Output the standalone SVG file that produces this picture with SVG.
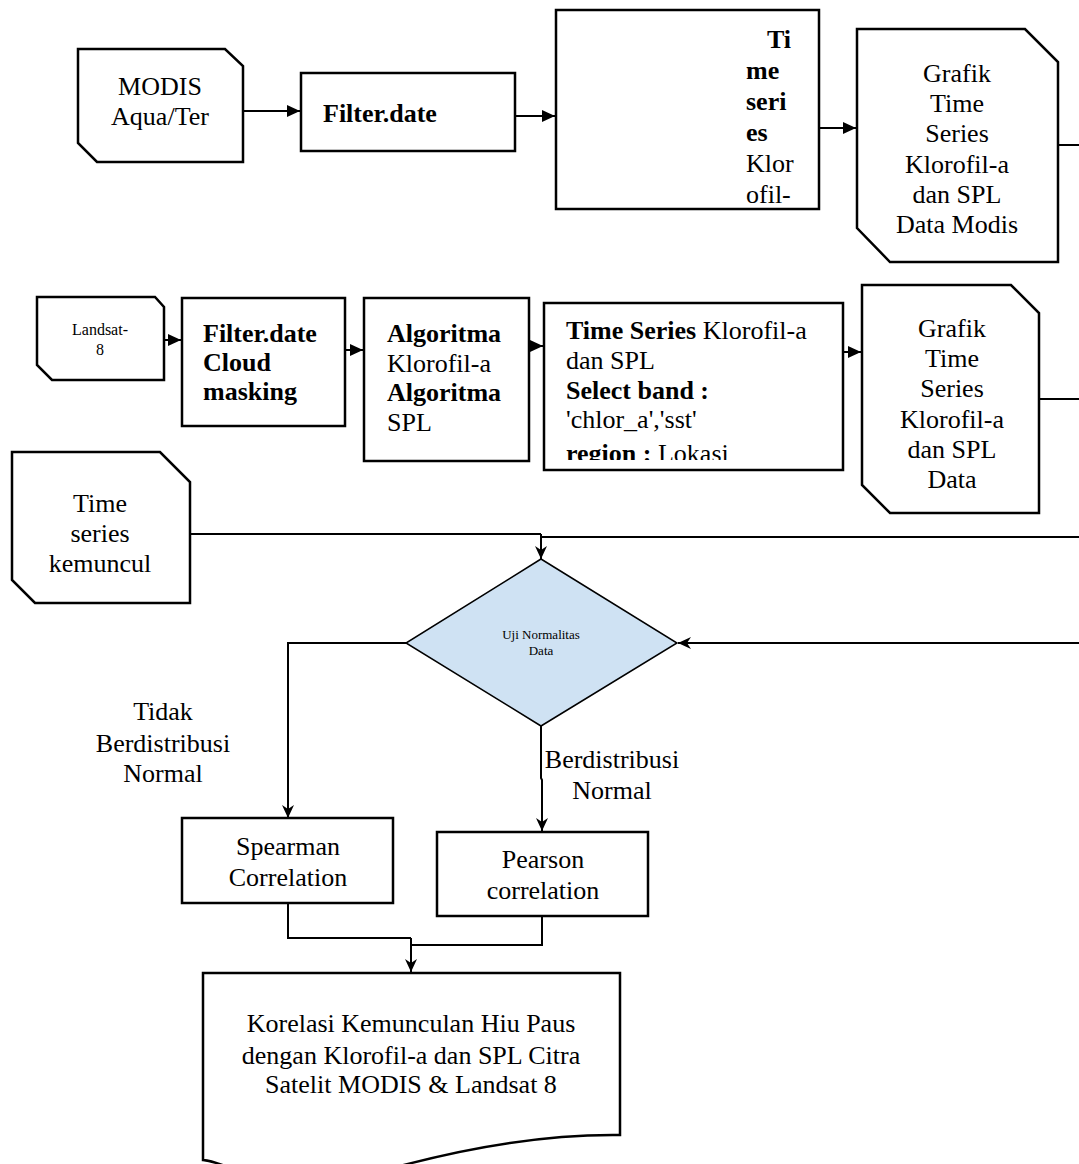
<svg xmlns="http://www.w3.org/2000/svg" width="1079" height="1164" viewBox="0 0 1079 1164">
<defs>
<style>
.box{fill:#fff;stroke:#000;stroke-width:2.5}
.dia{fill:#cfe2f3;stroke:#000;stroke-width:1.5}
.t{font-family:"Liberation Serif","Times New Roman",serif;font-size:26px;fill:#000}
.c{text-anchor:middle}
.b{font-weight:bold}
.ln{fill:none;stroke:#000;stroke-width:2}
.sa{marker-end:url(#solid)}
.st{marker-end:url(#stealth)}
</style>
<marker id="solid" markerUnits="userSpaceOnUse" markerWidth="14" markerHeight="14" refX="13" refY="6" orient="auto">
<path d="M0,0 L13,6 L0,12 Z" fill="#000"/>
</marker>
<marker id="stealth" markerUnits="userSpaceOnUse" markerWidth="14" markerHeight="14" refX="13" refY="6" orient="auto">
<path d="M0,0 L13,6 L0,12 L4,6 Z" fill="#000"/>
</marker>
<clipPath id="clipTS2"><rect x="546" y="305" width="295" height="155"/></clipPath>
</defs>
<rect width="1079" height="1164" fill="#fff"/>

<g id="connectors">
<path class="ln sa" d="M243,111 H300"/>
<path class="ln sa" d="M515,116 H555"/>
<path class="ln sa" d="M819,128 H856"/>
<path class="ln" d="M1058,145 H1079"/>
<path class="ln sa" d="M164,340 H181"/>
<path class="ln sa" d="M345,350 H363"/>
<path class="ln sa" d="M529,346 H543"/>
<path class="ln sa" d="M843,352 H861"/>
<path class="ln" d="M1039,399 H1079"/>
<path class="ln" d="M190,534 H541"/>
<path class="ln" d="M1079,537 H541"/>
<path class="ln st" d="M541,534 V559"/>
<path class="ln st" d="M1079,643 H678"/>
<path class="ln st" d="M406,643 H288 V818"/>
<path class="ln st" d="M541,726 V778 L542,780 V831"/>
<path class="ln" d="M288,903 V938 H411"/>
<path class="ln" d="M542,916 V945 H411"/>
<path class="ln st" d="M411,938 V972"/>
</g>

<g id="modis">
<path class="box" d="M78,49 H225 L243,66 V162 H97 L78,143 Z"/>
<text class="t c" x="160" y="95">MODIS</text>
<text class="t c" x="160" y="125">Aqua/Ter</text>
</g>

<g id="filter1">
<rect class="box" x="301" y="73" width="214" height="78"/>
<text class="t b" x="323" y="122">Filter.date</text>
</g>

<g id="timeseries1">
<rect class="box" x="556" y="10" width="263" height="199"/>
<text class="t b" x="767" y="48">Ti</text>
<text class="t b" x="746" y="79">me</text>
<text class="t b" x="746" y="110">seri</text>
<text class="t b" x="746" y="141">es</text>
<text class="t" x="746" y="172">Klor</text>
<text class="t" x="746" y="203">ofil-</text>
</g>

<g id="grafik1">
<path class="box" d="M857,29 H1025 L1058,62 V262 H890 L857,228 Z"/>
<text class="t c" x="957" y="82">Grafik</text>
<text class="t c" x="957" y="112">Time</text>
<text class="t c" x="957" y="142">Series</text>
<text class="t c" x="957" y="173">Klorofil-a</text>
<text class="t c" x="957" y="203">dan SPL</text>
<text class="t c" x="957" y="233">Data Modis</text>
</g>

<g id="landsat">
<path class="box" d="M37,297 H155 L164,307 V380 H52 L37,365 Z"/>
<text class="t c" x="100" y="335" style="font-size:16px">Landsat-</text>
<text class="t c" x="100" y="355" style="font-size:16px">8</text>
</g>

<g id="filter2">
<rect class="box" x="182" y="298" width="163" height="128"/>
<text class="t b" x="203" y="342">Filter.date</text>
<text class="t b" x="203" y="371">Cloud</text>
<text class="t b" x="203" y="400">masking</text>
</g>

<g id="algoritma">
<rect class="box" x="364" y="298" width="165" height="163"/>
<text class="t b" x="387" y="342">Algoritma</text>
<text class="t" x="387" y="372">Klorofil-a</text>
<text class="t b" x="387" y="401">Algoritma</text>
<text class="t" x="387" y="431">SPL</text>
</g>

<g id="timeseries2">
<rect class="box" x="544" y="303" width="299" height="167"/>
<g clip-path="url(#clipTS2)">
<text class="t" x="566" y="339"><tspan class="b">Time Series</tspan> Klorofil-a</text>
<text class="t" x="566" y="369">dan SPL</text>
<text class="t b" x="566" y="399">Select band :</text>
<text class="t" x="566" y="428">'chlor_a','sst'</text>
<text class="t" x="566" y="462"><tspan class="b">region :</tspan> Lokasi</text>
</g>
</g>

<g id="grafik2">
<path class="box" d="M862,285 H1011 L1039,313 V513 H890 L862,485 Z"/>
<text class="t c" x="952" y="337">Grafik</text>
<text class="t c" x="952" y="367">Time</text>
<text class="t c" x="952" y="397">Series</text>
<text class="t c" x="952" y="428">Klorofil-a</text>
<text class="t c" x="952" y="458">dan SPL</text>
<text class="t c" x="952" y="488">Data</text>
</g>

<g id="kemuncul">
<path class="box" d="M12,452 H160 L190,482 V603 H35 L12,580 Z"/>
<text class="t c" x="100" y="512">Time</text>
<text class="t c" x="100" y="542">series</text>
<text class="t c" x="100" y="572">kemuncul</text>
</g>

<g id="uji">
<path class="dia" d="M541,559 L677,643 L541,726 L406,643 Z"/>
<text class="t c" x="541" y="639" style="font-size:13px">Uji Normalitas</text>
<text class="t c" x="541" y="655" style="font-size:13px">Data</text>
</g>

<g id="label-tidak">
<text class="t c" x="163" y="720">Tidak</text>
<text class="t c" x="163" y="752">Berdistribusi</text>
<text class="t c" x="163" y="782">Normal</text>
</g>

<g id="label-normal">
<text class="t c" x="612" y="768">Berdistribusi</text>
<text class="t c" x="612" y="799">Normal</text>
</g>

<g id="spearman">
<rect class="box" x="182" y="818" width="211" height="85"/>
<text class="t c" x="288" y="855">Spearman</text>
<text class="t c" x="288" y="886">Correlation</text>
</g>

<g id="pearson">
<rect class="box" x="437" y="832" width="211" height="84"/>
<text class="t c" x="543" y="868">Pearson</text>
<text class="t c" x="543" y="899">correlation</text>
</g>

<g id="korelasi">
<path class="box" d="M203,973 H620 V1135 C540,1134 460,1150 400,1166 L240,1172 C225,1166 215,1161 203,1160 Z"/>
<text class="t c" x="411" y="1032">Korelasi Kemunculan Hiu Paus</text>
<text class="t c" x="411" y="1064">dengan Klorofil-a dan SPL Citra</text>
<text class="t c" x="411" y="1093">Satelit MODIS &amp; Landsat 8</text>
</g>
</svg>
